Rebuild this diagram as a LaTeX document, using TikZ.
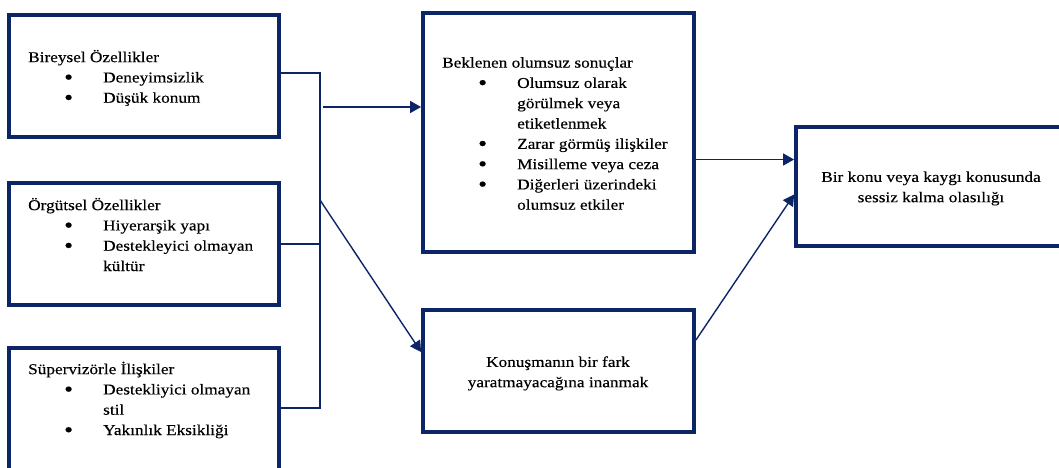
\documentclass[tikz,border=0pt]{standalone}
\usepackage{fontspec}
\setmainfont{Liberation Serif}[FakeStretch=1.15,FakeBold=0.35]
\usetikzlibrary{arrows.meta}
\definecolor{navy}{HTML}{0B2566}
\newcommand{\bigbul}{\raisebox{-2pt}{\fontsize{22}{22}\selectfont •}}
\newcommand{\bul}[1]{\strut\hspace*{36pt}\makebox[39pt][l]{\bigbul}#1}
\newcommand{\cont}[1]{\strut\hspace*{75pt}#1}
\begin{document}
\begin{tikzpicture}[x=1pt,y=-1pt,
  box/.style={draw=navy, line width=3.8pt, rectangle, inner sep=0pt},
  txt/.style={inner sep=0pt, text=black, font=\fontsize{15}{20.3}\selectfont},
  conn/.style={draw=navy, line width=1.4pt},
  arr/.style={conn, -{Triangle[length=11pt,width=12pt]}}]
\useasboundingbox (0,0) rectangle (1059,467);
\clip (0,0) rectangle (1059,467);
% boxes
\node[box, minimum width=270pt, minimum height=122pt] (b1) at (144,76) {};
\node[box, minimum width=270pt, minimum height=122pt] (b2) at (144,244) {};
\node[box, minimum width=270pt, minimum height=122pt] (b3) at (144,409) {};
\node[box, minimum width=271pt, minimum height=239pt] (b4) at (558.5,132.5) {};
\node[box, minimum width=271pt, minimum height=122pt] (b5) at (558.5,371) {};
\node[box, minimum width=271pt, minimum height=119pt] (b6) at (931.5,186.5) {};
% texts
\node[txt, anchor=north west, align=left] (t1) at (28,47.7) {\strut Bireysel Özellikler\\ \bul{Deneyimsizlik}\\ \bul{Düşük konum}};
\node[txt, anchor=north west, align=left] (t2) at (28,195.7) {\strut Örgütsel Özellikler\\ \bul{Hiyerarşik yapı}\\ \bul{Destekleyici olmayan}\\ \cont{kültür}};
\node[txt, anchor=north west, align=left] (t3) at (28,359.7) {\strut Süpervizörle İlişkiler\\ \bul{Destekliyici olmayan}\\ \cont{stil}\\ \bul{Yakınlık Eksikliği}};
\node[txt, anchor=north west, align=left] (t4) at (442,53.2) {\strut Beklenen olumsuz sonuçlar\\ \bul{Olumsuz olarak}\\ \cont{görülmek veya}\\ \cont{etiketlenmek}\\ \bul{Zarar görmüş ilişkiler}\\ \bul{Misilleme veya ceza}\\ \bul{Diğerleri üzerindeki}\\ \cont{olumsuz etkiler}};
\node[txt, anchor=north, align=center] (t5) at (558,352.5) {\strut Konuşmanın bir fark\\ \strut yaratmayacağına inanmak};
\node[txt, anchor=north, align=center] (t6) at (931,167.5) {\strut Bir konu veya kaygı konusunda\\ \strut sessiz kalma olasılığı};
% connectors
\coordinate (jt) at (320,73);
\coordinate (jb) at (320,408);
\coordinate (a1) at (323,107);
\coordinate (d1) at (320,200);
\draw[conn] (b1.east |- jt) -- (jt) -- (jb) -- (b3.east |- jb);
\draw[conn] (b2.east) -- (b2.east -| jt);
\draw[arr] (a1) -- (a1 -| b4.west);
\draw[arr] (d1) -- ([yshift=19pt]b5.west);
\draw[arr] ([yshift=-27pt]b4.east) -- ([yshift=-27pt]b4.east -| b6.west);
\draw[arr] ([yshift=31pt]b5.east) -- ([yshift=-8pt]b6.west);
\end{tikzpicture}
\end{document}
